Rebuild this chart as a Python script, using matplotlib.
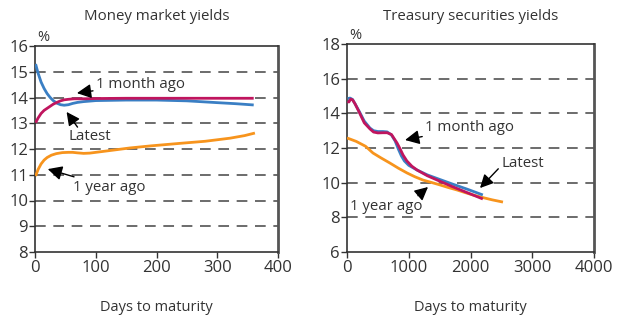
import matplotlib
matplotlib.use("Agg")
import matplotlib.pyplot as plt

plt.rcParams['font.family'] = ['Open Sans', 'DejaVu Sans']

# ---- Money market yields ----
mm_latest_x = [1, 5, 10, 15, 20, 25, 30, 36, 42, 48, 55, 62, 70, 80, 100, 150, 200, 250, 300, 330, 360]
mm_latest_y = [15.30, 14.95, 14.60, 14.35, 14.15, 14.00, 13.88, 13.78, 13.72, 13.70, 13.72, 13.77, 13.81, 13.84, 13.88, 13.90, 13.90, 13.87, 13.80, 13.76, 13.71]

mm_month_x = [1, 5, 10, 15, 20, 25, 30, 36, 42, 48, 55, 65, 80, 100, 150, 200, 250, 300, 360]
mm_month_y = [13.02, 13.20, 13.38, 13.50, 13.58, 13.66, 13.74, 13.81, 13.87, 13.91, 13.93, 13.95, 13.95, 13.96, 13.97, 13.97, 13.97, 13.97, 13.97]

mm_year_x = [1, 5, 10, 15, 20, 27, 35, 45, 55, 62, 70, 80, 90, 110, 130, 156, 190, 239, 280, 321, 345, 362]
mm_year_y = [10.95, 11.20, 11.42, 11.57, 11.67, 11.76, 11.82, 11.86, 11.87, 11.87, 11.85, 11.83, 11.84, 11.90, 11.96, 12.04, 12.12, 12.22, 12.30, 12.42, 12.52, 12.62]

# ---- Treasury securities yields ----
tr_latest_x = [10, 50, 90, 130, 200, 280, 372, 430, 500, 580, 650, 720, 780, 830, 880, 930, 1000, 1134, 1300, 1506, 1700, 1950, 2200]
tr_latest_y = [14.85, 14.88, 14.80, 14.55, 14.10, 13.55, 13.15, 13.00, 12.95, 12.95, 12.93, 12.75, 12.40, 11.95, 11.55, 11.25, 11.00, 10.73, 10.45, 10.18, 9.93, 9.62, 9.29]

tr_month_x = [10, 30, 60, 90, 130, 200, 280, 372, 430, 500, 580, 650, 720, 810, 860, 907, 970, 1050, 1134, 1300, 1506, 1700, 1950, 2200]
tr_month_y = [14.70, 14.65, 14.82, 14.78, 14.55, 14.05, 13.45, 13.10, 12.92, 12.87, 12.88, 12.88, 12.78, 12.29, 11.95, 11.60, 11.25, 10.95, 10.73, 10.40, 10.08, 9.78, 9.42, 9.06]

tr_year_x = [0, 150, 300, 421, 550, 696, 830, 972, 1100, 1231, 1370, 1506, 1640, 1781, 1910, 2040, 2200, 2350, 2526]
tr_year_y = [12.58, 12.38, 12.10, 11.71, 11.43, 11.13, 10.84, 10.56, 10.34, 10.15, 10.01, 9.87, 9.72, 9.58, 9.43, 9.29, 9.14, 9.01, 8.88]

BLUE = '#3a7fc4'
MAGENTA = '#c0155e'
ORANGE = '#f7941d'
TXT = '#333333'
GRID = '#444444'

fig = plt.figure(figsize=(6.19, 3.2), dpi=100)
ax1 = fig.add_axes([35/619, 1-252/320, 243/619, 206/320])
ax2 = fig.add_axes([347/619, 1-252/320, 247/619, 208/320])


def style(ax, xlim, ylim, xticks, yticks, grid_vals):
    ax.set_xlim(*xlim)
    ax.set_ylim(*ylim)
    ax.set_xticks(xticks)
    ax.set_yticks(yticks)
    for v in grid_vals:
        ax.axhline(v, color=GRID, lw=1.1, dashes=(7, 5), zorder=1)
    for s in ax.spines.values():
        s.set_color('#333333')
        s.set_linewidth(1.2)
    ax.spines['right'].set_linewidth(2.0)
    ax.spines['right'].set_color('#555555')
    ax.tick_params(axis='both', length=4, width=1, color='#333333',
                   labelsize=12, labelcolor=TXT, pad=2)
    ax.tick_params(axis='y', pad=1)
    ax.set_xlabel('Days to maturity', fontsize=10.5, color=TXT, labelpad=17)


style(ax1, (0, 400), (8, 16), [0, 100, 200, 300, 400], list(range(8, 17)), range(9, 16))
style(ax2, (0, 4000), (6, 18), [0, 1000, 2000, 3000, 4000], list(range(6, 19, 2)), range(8, 17, 2))

lw = 2.0
ax1.plot(mm_year_x, mm_year_y, color=ORANGE, lw=lw, zorder=3, solid_capstyle='butt')
ax1.plot(mm_latest_x, mm_latest_y, color=BLUE, lw=lw, zorder=3, solid_capstyle='butt')
ax1.plot(mm_month_x, mm_month_y, color=MAGENTA, lw=lw, zorder=4, solid_capstyle='butt')

ax2.plot(tr_year_x, tr_year_y, color=ORANGE, lw=lw, zorder=3, solid_capstyle='butt')
ax2.plot(tr_latest_x, tr_latest_y, color=BLUE, lw=lw, zorder=4, solid_capstyle='butt')
ax2.plot(tr_month_x, tr_month_y, color=MAGENTA, lw=lw, zorder=5, solid_capstyle='butt')

ax1.set_title('Money market yields', fontsize=10.8, color=TXT, pad=19)
ax2.set_title('Treasury securities yields', fontsize=10.8, color=TXT, pad=17)
ax1.text(0.01, 1.005, '%', transform=ax1.transAxes, fontsize=10.5, color=TXT, ha='left', va='bottom')
ax2.text(0.01, 1.005, '%', transform=ax2.transAxes, fontsize=10.5, color=TXT, ha='left', va='bottom')

arrow = dict(arrowstyle='-|>,head_length=0.8,head_width=0.4', color='black', lw=1.0,
             shrinkA=0, shrinkB=0)

ax1.annotate('1 month ago', xy=(69, 14.17), xytext=(100, 14.52), fontsize=10.8, color=TXT,
             va='center', ha='left', arrowprops=arrow, zorder=6)
ax1.annotate('', xy=(52, 13.44), xytext=(70, 12.85), arrowprops=arrow, zorder=6)
ax1.text(90, 12.5, 'Latest', fontsize=10.8, color=TXT, va='center', ha='center')
ax1.annotate('1 year ago', xy=(21, 11.22), xytext=(62, 10.52), fontsize=10.8, color=TXT,
             va='center', ha='left', arrowprops=arrow, zorder=6)

ax2.annotate('1 month ago', xy=(940, 12.46), xytext=(1263, 13.21), fontsize=10.8, color=TXT,
             va='center', ha='left', arrowprops=arrow, zorder=6)
ax2.annotate('', xy=(2154, 9.69), xytext=(2450, 10.8), arrowprops=arrow, zorder=6)
ax2.text(2510, 11.13, 'Latest', fontsize=10.8, color=TXT, va='center', ha='left')
ax2.annotate('', xy=(1312, 9.75), xytext=(1150, 9.25), arrowprops=arrow, zorder=6)
ax2.text(49, 8.6, '1 year ago', fontsize=10.8, color=TXT, va='center', ha='left')

fig.savefig('out.png', dpi=100)
